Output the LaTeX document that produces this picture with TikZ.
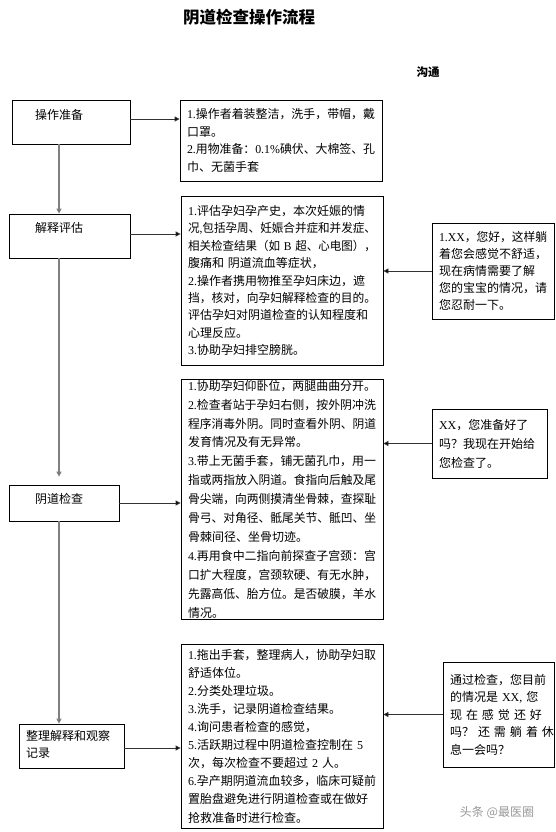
\documentclass[tikz,border=0pt]{standalone}
\usepackage{fontspec}
\usepackage{graphicx}
\setmainfont{Noto Sans CJK SC}
\newfontfamily\latf{Liberation Serif}
\newcommand\lt[1]{{\latf #1}}
\newcommand\fl[1]{\sbox0{#1}\ifdim\wd0>\linewidth\resizebox{\linewidth}{\height}{#1}\else\usebox0\fi}
\newcommand\spr[1]{\makebox[\linewidth][s]{#1}}
\usetikzlibrary{arrows.meta}
\tikzset{
  textbox/.style={draw, line width=0.8pt, rectangle, inner xsep=7pt, inner ysep=1pt, align=left},
  leftbox/.style={draw, line width=0.8pt, rectangle, inner sep=0pt},
  lefttext/.style={anchor=west, inner sep=0pt, align=left, font=\fontsize{12}{17}\selectfont},
  vline/.style={draw=black!50, line width=1.6pt, -{Triangle[length=5pt,width=5pt,fill=black]}},
  hline/.style={draw=black!80, line width=0.8pt, -{Triangle[length=5pt,width=5pt,fill=black]}},
}
\begin{document}
\begin{tikzpicture}[x=1pt,y=-1pt]
\useasboundingbox[fill=white] (0,0) rectangle (556,832);

\node (title) at (249,17) {\fontsize{16.5}{18}\selectfont\bfseries 阴道检查操作流程};
\node (comm) at (428,72) {\fontsize{11.5}{13}\selectfont\bfseries 沟通};

% left column boxes
\node[leftbox, minimum width=118pt, minimum height=44pt] (lb1) at (71,122) {};
\node[leftbox, minimum width=121pt, minimum height=44pt] (lb2) at (69.5,236) {};
\node[leftbox, minimum width=110pt, minimum height=36pt] (lb3) at (64,503) {};
\node[leftbox, minimum width=105pt, minimum height=44pt] (lb4) at (71.5,746) {};
\node[lefttext] (t1) at (35,115) {操作准备};
\node[lefttext] (t2) at (35,228) {解释评估};
\node[lefttext] (t3) at (35,499) {阴道检查};
\node[lefttext] (t4) at (26,744.5) {整理解释和观察\\记录};

% middle column boxes
\node[textbox, text width=188pt, minimum width=202pt, minimum height=81pt,
  font=\fontsize{12}{17.7}\selectfont] (A) at (281,140.5) {%
\fl{\lt{1.}操作者着装整洁，洗手，带帽，戴}\\
口罩。\\
\fl{\lt{2.}用物准备：\lt{0.1\%}碘伏、大棉签、孔}\\
巾、无菌手套};

\node[textbox, text width=188pt, minimum width=202pt, minimum height=169pt,
  font=\fontsize{12}{17.4}\selectfont] (B) at (282,280.5) {%
\fl{\lt{1.}评估孕妇孕产史，本次妊娠的情}\\
\fl{况\lt{,}包括孕周、妊娠合并症和并发症、}\\
\fl{相关检查结果（如\lt{ B }超、心电图），}\\
腹痛和 阴道流血等症状，\\
\fl{\lt{2.}操作者携用物推至孕妇床边，遮}\\
\fl{挡，核对，向孕妇解释检查的目的。}\\
\fl{评估孕妇对阴道检查的认知程度和}\\
心理反应。\\
\lt{3.}协助孕妇排空膀胱。};

\node[textbox, text width=188pt, minimum width=202pt, minimum height=236pt,
  font=\fontsize{12}{18.9}\selectfont] (D) at (282,499) {%
\fl{\lt{1.}协助孕妇仰卧位，两腿曲曲分开。}\\
\fl{\lt{2.}检查者站于孕妇右侧，按外阴冲洗}\\
\fl{程序消毒外阴。同时查看外阴、阴道}\\
发育情况及有无异常。\\
\fl{\lt{3.}带上无菌手套，铺无菌孔巾，用一}\\
\fl{指或两指放入阴道。食指向后触及尾}\\
\fl{骨尖端，向两侧摸清坐骨棘，查探耻}\\
\fl{骨弓、对角径、骶尾关节、骶凹、坐}\\
骨棘间径、坐骨切迹。\\
\fl{\lt{4.}再用食中二指向前探查子宫颈：宫}\\
\fl{口扩大程度，宫颈软硬、有无水肿，}\\
\fl{先露高低、胎方位。是否破膜，羊水}\\
情况。};

\node[textbox, text width=188pt, minimum width=202pt, minimum height=184pt,
  font=\fontsize{12}{18.1}\selectfont] (F) at (282,736) {%
\fl{\lt{1.}拖出手套，整理病人，协助孕妇取}\\
舒适体位。\\
\lt{2.}分类处理垃圾。\\
\lt{3.}洗手，记录阴道检查结果。\\
\lt{4.}询问患者检查的感觉，\\
\fl{\lt{5.}活跃期过程中阴道检查控制在\lt{ 5}}\\
次，每次检查不要超过\lt{ 2 }人。\\
\fl{\lt{6.}孕产期阴道流血较多，临床可疑前}\\
\fl{置胎盘避免进行阴道检查或在做好}\\
抢救准备时进行检查。};

% right column (communication) boxes
\node[textbox, text width=108pt, minimum width=122pt, minimum height=96pt,
  font=\fontsize{12}{17}\selectfont] (C) at (493,271) {%
\fl{\lt{1.XX}，您好，这样躺}\\
\fl{着您会感觉不舒适，}\\
\fl{现在病情需要了解}\\
\fl{您的宝宝的情况，请}\\
您忍耐一下。};

\node[textbox, text width=101pt, minimum width=115pt, minimum height=69pt,
  font=\fontsize{12}{19}\selectfont] (E) at (489.5,443.5) {%
\fl{\lt{XX}，您准备好了}\\
\fl{吗？我现在开始给}\\
您检查了。};

\node[textbox, text width=97pt, minimum width=111pt, minimum height=105pt,
  font=\fontsize{12}{17.5}\selectfont] (G) at (498.5,714.5) {%
\fl{通过检查，您目前}\\
\spr{的情况是 \lt{XX,} 您}\\
\spr{现 在 感 觉 还 好}\\
\spr{吗？ 还 需 躺 着 休}\\
息一会吗？};

% vertical flow
\coordinate (vx) at (59,0);
\draw[vline] (lb1.south -| vx) -- (lb2.north -| vx);
\draw[vline] (lb2.south -| vx) -- ([yshift=8pt]lb3.north -| vx);
\draw[vline] (lb3.south -| vx) -- (lb4.north -| vx);

% left to middle
\draw[hline] ([yshift=3pt]lb1.east) -- ([yshift=3pt]lb1.east -| A.west);
\draw[hline] ([yshift=2pt]lb2.east) -- ([yshift=2pt]lb2.east -| B.west);
\draw[hline] (lb3.east) -- (lb3.east -| D.west);
\draw[hline] ([yshift=-2pt]lb4.east) -- ([yshift=-2pt]lb4.east -| F.west);

% right to middle
\draw[hline] (C.west) -- (C.west -| B.east);
\draw[hline] (E.west) -- (E.west -| D.east);
\draw[hline] (G.west) -- (G.west -| F.east);

% watermark
\node[text=black!40, font=\fontsize{12}{14}\selectfont] (wm) at (497,812) {头条 @最医圈};
\end{tikzpicture}
\end{document}
